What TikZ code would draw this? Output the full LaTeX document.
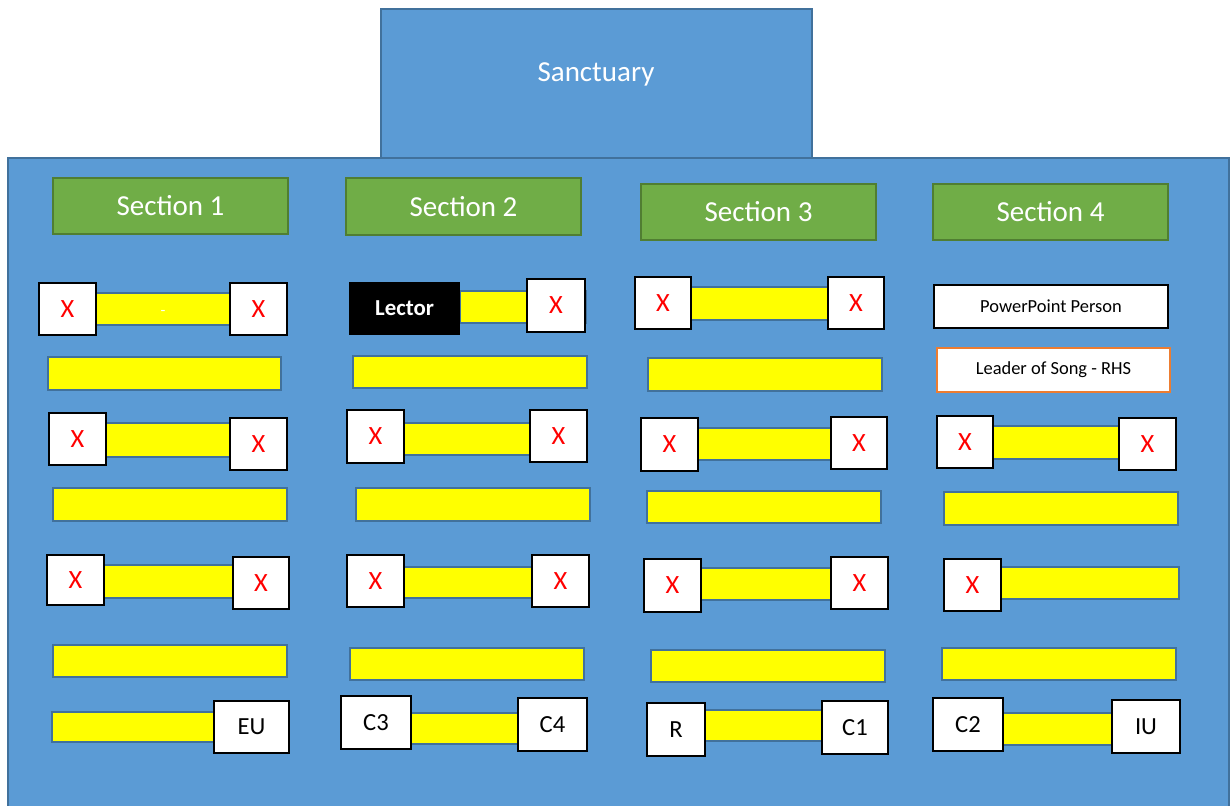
\documentclass[tikz,border=0pt]{standalone}
\usepackage{fontspec}
\setmainfont{Carlito}
\usepackage{xcolor}
\usetikzlibrary{fit}
\definecolor{roomblue}{HTML}{5B9BD5}
\definecolor{roomedge}{HTML}{41719C}
\definecolor{secgreen}{HTML}{70AD47}
\definecolor{secedge}{HTML}{507E32}
\definecolor{songorange}{HTML}{ED7D31}
\definecolor{benchyellow}{RGB}{255,255,0}

\begin{document}
\begin{tikzpicture}[x=0.02cm, y=-0.02cm, font=\rmfamily,
  room/.style={fill=roomblue, draw=roomedge, line width=1.1pt},
  header/.style={fill=secgreen, draw=secedge, line width=1.1pt, inner sep=0pt,
    label={[text=white, font=\fontsize{16.5}{18}\selectfont]center:#1}},
  bench/.style={fill=benchyellow, draw=roomedge, line width=1.1pt},
  seat/.style={fill=white, draw=black, line width=1.1pt, inner sep=0pt,
    label={[font=\fontsize{14}{16}\selectfont]center:#1}},
  xseat/.style={fill=white, draw=black, line width=1.1pt, inner sep=0pt,
    label={[text=red, font=\fontsize{15}{17}\selectfont]center:X}},
  role/.style={fill=white, draw=black, line width=1.3pt, inner sep=0pt,
    label={[font=\fontsize{10.5}{12}\selectfont]center:#1}}]

\useasboundingbox (0,0) rectangle (1230,805);

% ==========================================
% Room outline and sanctuary
% ==========================================
\draw[room] (8,158) rectangle (1229,820);
\draw[room] (381,9) rectangle (812,158);
\node[text=white, font=\fontsize{16.5}{18}\selectfont] (sanct) at (596,74) {Sanctuary};

% ==========================================
% Section headers
% ==========================================
\node[header=Section 1, fit={(53,178) (288,234)}] (sec1) {};
\node[header=Section 2, fit={(346,178) (581,235)}] (sec2) {};
\node[header=Section 3, fit={(641,184) (876,240)}] (sec3) {};
\node[header=Section 4, fit={(933,184) (1168,240)}] (sec4) {};

% ==========================================
% Section 1
% ==========================================
\draw[bench] (95,293) rectangle (231,325);
\node[text=white, font=\small] (dash1) at (163,313) {-};
\node[xseat, fit={(39,283) (96,335)}] (s1a) {};
\node[xseat, fit={(230,283) (287,335)}] (s1b) {};
\draw[bench] (48,357) rectangle (281,390);
\draw[bench] (106,423) rectangle (230,457);
\node[xseat, fit={(49,413) (106,465)}] (s1c) {};
\node[xseat, fit={(230,418) (287,470)}] (s1d) {};
\draw[bench] (53,488) rectangle (287,521);
\draw[bench] (104,565) rectangle (233,598);
\node[xseat, fit={(47,555) (104,605)}] (s1e) {};
\node[xseat, fit={(233,557) (289,609)}] (s1f) {};
\draw[bench] (53,645) rectangle (287,677);
\draw[bench] (52,712) rectangle (214,742);
\node[seat=EU, fit={(214,701) (289,753)}] (eu) {};

% ==========================================
% Section 2
% ==========================================
\draw[bench] (460,291) rectangle (586,323);
\node[fill=black, inner sep=0pt, fit={(349,282) (460,335)},
  label={[text=white, font=\fontsize{13}{15}\selectfont\bfseries]center:Lector}] (lector) {};
\node[xseat, fit={(527,279) (585,332)}] (s2a) {};
\draw[bench] (353,356) rectangle (587,388);
\draw[bench] (404,423) rectangle (530,455);
\node[xseat, fit={(347,410) (404,463)}] (s2c) {};
\node[xseat, fit={(530,410) (587,462)}] (s2d) {};
\draw[bench] (356,488) rectangle (590,521);
\draw[bench] (404,567) rectangle (532,598);
\node[xseat, fit={(347,555) (404,607)}] (s2e) {};
\node[xseat, fit={(532,555) (589,607)}] (s2f) {};
\draw[bench] (350,648) rectangle (584,680);
\draw[bench] (411,713) rectangle (518,744);
\node[seat=C3, fit={(341,696) (411,749)}] (c3) {};
\node[seat=C4, fit={(518,698) (587,751)}] (c4) {};

% ==========================================
% Section 3
% ==========================================
\draw[bench] (691,287) rectangle (828,320);
\node[xseat, fit={(635,277) (691,329)}] (s3a) {};
\node[xseat, fit={(828,277) (884,329)}] (s3b) {};
\draw[bench] (648,358) rectangle (882,391);
\draw[bench] (698,428) rectangle (831,460);
\node[xseat, fit={(641,418) (698,471)}] (s3c) {};
\node[xseat, fit={(831,417) (887,469)}] (s3d) {};
\draw[bench] (647,491) rectangle (881,523);
\draw[bench] (701,568) rectangle (831,600);
\node[xseat, fit={(644,559) (701,612)}] (s3e) {};
\node[xseat, fit={(831,557) (888,609)}] (s3f) {};
\draw[bench] (651,650) rectangle (885,682);
\draw[bench] (705,710) rectangle (822,741);
\node[seat=R, fit={(647,703) (705,756)}] (rr) {};
\node[seat=C1, fit={(822,701) (888,754)}] (c1) {};

% ==========================================
% Section 4
% ==========================================
\node[role=PowerPoint Person, fit={(934,285) (1168,328)}] (ppt) {};
\node[role=Leader of Song - RHS, draw=songorange, line width=1.1pt, fit={(937,348) (1170,392)}] (song) {};
\draw[bench] (993,426) rectangle (1119,459);
\node[xseat, fit={(937,416) (993,468)}] (s4c) {};
\node[xseat, fit={(1119,418) (1176,470)}] (s4d) {};
\draw[bench] (944,492) rectangle (1178,525);
\draw[bench] (1001,567) rectangle (1179,599);
\node[xseat, fit={(944,559) (1001,611)}] (s4e) {};
\draw[bench] (942,648) rectangle (1176,680);
\draw[bench] (1003,713) rectangle (1112,745);
\node[seat=C2, fit={(933,698) (1003,751)}] (c2) {};
\node[seat=IU, fit={(1112,700) (1180,753)}] (iu) {};

\end{tikzpicture}
\end{document}
